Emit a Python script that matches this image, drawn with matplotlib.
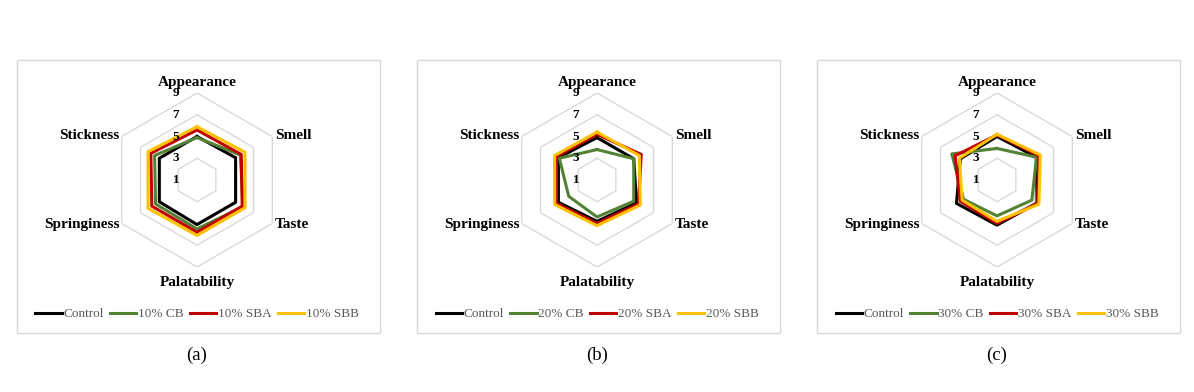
import numpy as np
import matplotlib.pyplot as plt
from matplotlib.patches import Rectangle
from matplotlib.transforms import offset_copy

plt.rcParams['font.family'] = ['Liberation Serif', 'DejaVu Serif']

# --- Data ---
attributes = ["Appearance", "Smell", "Taste", "Palatability", "Springiness", "Stickness"]
series_names = ["Control", "CB", "SBA", "SBB"]
levels = ["10%", "20%", "30%"]
panel_tags = ["(a)", "(b)", "(c)"]

control_a = [5.0, 5.1, 5.1, 5.1, 5.0, 5.0]
cb_a = [4.9, 5.6, 5.9, 5.5, 5.4, 5.5]
sba_a = [5.6, 5.7, 5.8, 5.8, 5.8, 5.9]
sbb_a = [5.9, 6.1, 6.1, 6.1, 6.2, 6.2]

control_b = [4.9, 4.9, 5.2, 4.8, 5.1, 5.1]
cb_b = [3.8, 4.9, 4.9, 4.4, 4.0, 5.0]
sba_b = [5.2, 5.7, 5.4, 5.0, 5.3, 5.3]
sbb_b = [5.4, 5.5, 5.6, 5.2, 5.5, 5.5]

control_c = [5.0, 5.2, 5.25, 5.15, 5.3, 4.9]
cb_c = [3.9, 5.2, 4.7, 4.3, 4.55, 5.8]
sba_c = [5.15, 5.45, 5.3, 5.0, 4.9, 5.45]
sbb_c = [5.2, 5.6, 5.45, 4.8, 4.7, 5.0]

panels = [
    [control_a, cb_a, sba_a, sbb_a],
    [control_b, cb_b, sba_b, sbb_b],
    [control_c, cb_c, sba_c, sbb_c],
]
colors = ["#000000", "#548235", "#c00000", "#ffc000"]
grid_levels = [3, 5, 7, 9]

W, H = 1194, 392
fig = plt.figure(figsize=(W / 100, H / 100), dpi=100)

n = len(attributes)
theta = np.linspace(0, 2 * np.pi, n, endpoint=False)
theta_c = np.append(theta, theta[0])

for p, data in enumerate(panels):
    cx = 197 + 400 * p
    cy = 180
    rad = 87

    # panel frame
    fig.patches.append(Rectangle(((cx - 180) / W, 1 - 333 / H), 363 / W, 273 / H,
                                 transform=fig.transFigure, fill=False,
                                 edgecolor="#d9d9d9", lw=1))

    ax = fig.add_axes([(cx - rad) / W, 1 - (cy + rad) / H, 2 * rad / W, 2 * rad / H],
                      projection="polar")
    ax.set_theta_offset(np.pi / 2)
    ax.set_theta_direction(-1)
    ax.set_ylim(1, 9)
    ax.set_axis_off()

    for g in grid_levels:
        ax.plot(theta_c, [g] * (n + 1), color="#d9d9d9", lw=1, zorder=1)

    handles = []
    for k, vals in enumerate(data):
        v = np.append(vals, vals[0])
        name = series_names[0] if k == 0 else f"{levels[p]} {series_names[k]}"
        h, = ax.plot(theta_c, v, color=colors[k], lw=2.2, zorder=3 + k, label=name)
        handles.append(h)

    # radial tick labels
    tr = offset_copy(ax.transData, fig=fig, x=-21, y=0, units="dots")
    for t in [1, 3, 5, 7, 9]:
        ax.text(0, t, str(t), transform=tr, ha="center", va="center",
                fontsize=9.5, fontweight="bold", zorder=10, clip_on=False)

    # category labels
    lab_kw = dict(fontsize=11, fontweight="bold", clip_on=False)
    ax.text(theta[0], 10.0, attributes[0], ha="center", va="center", **lab_kw)
    ax.text(theta[1], 9.25, attributes[1], ha="left", va="center", **lab_kw)
    ax.text(theta[2], 9.25, attributes[2], ha="left", va="center", **lab_kw)
    ax.text(theta[3], 10.4, attributes[3], ha="center", va="center", **lab_kw)
    ax.text(theta[4], 9.25, attributes[4], ha="right", va="center", **lab_kw)
    ax.text(theta[5], 9.25, attributes[5], ha="right", va="center", **lab_kw)

    leg = fig.legend(handles=handles, loc="center",
                     bbox_to_anchor=(cx / W, 1 - 314 / H), ncol=4, frameon=False,
                     fontsize=9.5, handlelength=2.0, handletextpad=0.1,
                     columnspacing=0.5)
    for txt in leg.get_texts():
        txt.set_color("#595959")

    fig.text(cx / W, 1 - 355 / H, panel_tags[p], ha="center", va="center", fontsize=13.5)

plt.savefig("out.png", dpi=100)
plt.close()
